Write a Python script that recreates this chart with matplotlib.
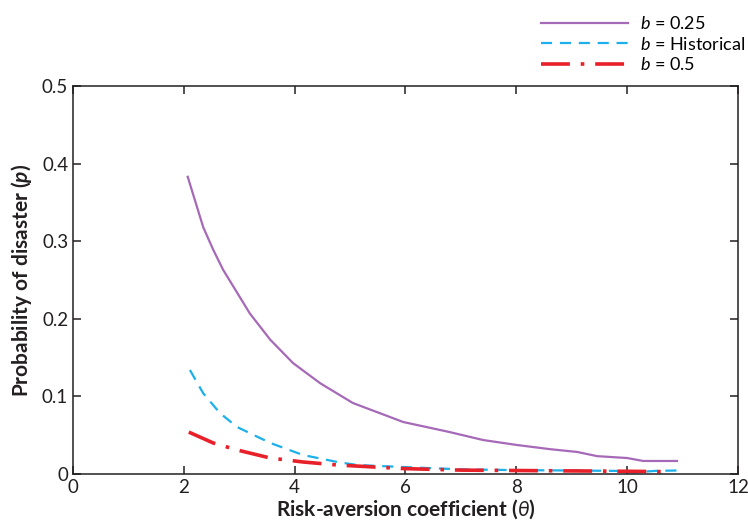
import numpy as np
import matplotlib
matplotlib.use("Agg")
import matplotlib.pyplot as plt

plt.rcParams['font.family'] = ['Lato', 'DejaVu Sans']
plt.rcParams['mathtext.fontset'] = 'custom'
plt.rcParams['mathtext.it'] = 'Lato:italic'
plt.rcParams['mathtext.bf'] = 'Lato:bold:italic'
plt.rcParams['mathtext.rm'] = 'Lato'

# risk-aversion coefficient vs. probability of disaster
theta_025 = [2.07, 2.35, 2.53, 2.71, 3.19, 3.56, 3.97, 4.46, 5.05, 5.96, 6.80, 7.40,
             8.01, 8.61, 9.10, 9.46, 10.0, 10.29, 10.9]
p_025 = [0.383, 0.318, 0.289, 0.263, 0.207, 0.173, 0.143, 0.117, 0.0915, 0.067, 0.054,
         0.0438, 0.0374, 0.032, 0.0284, 0.023, 0.0206, 0.0168, 0.0168]

theta_hist = [2.11, 2.35, 2.65, 2.96, 3.56, 4.15, 4.77, 5.13, 5.96, 7.0, 8.0, 9.0,
              9.8, 10.1, 10.5, 10.9]
p_hist = [0.134, 0.104, 0.0786, 0.0606, 0.040, 0.0245, 0.0155, 0.0116, 0.009, 0.006,
          0.005, 0.0045, 0.004, 0.002, 0.004, 0.0045]

theta_05 = [2.09, 2.53, 2.96, 3.56, 4.15, 4.77, 5.96, 7.0, 8.0, 9.0, 10.0, 10.8]
p_05 = [0.054, 0.040, 0.031, 0.0206, 0.0155, 0.0116, 0.007, 0.005, 0.0045, 0.004,
        0.0035, 0.003]

fig = plt.figure(figsize=(7.48, 5.24), dpi=100)
ax = fig.add_axes([0.0976, 0.0954, 0.889, 0.7405])

ax.plot(theta_025, p_025, color='#a669b8', lw=1.6, label='$b$ = 0.25')
ax.plot(theta_hist, p_hist, color='#1cb0ea', lw=1.6, ls=(0, (5, 3.5)),
        label='$b$ = Historical')
ax.plot(theta_05, p_05, color='#e8202a', lw=2.6, ls=(0, (8, 3, 1, 3)),
        label='$b$ = 0.5')

ax.set_xlim(0, 12)
ax.set_ylim(0, 0.5)
ax.set_xticks([0, 2, 4, 6, 8, 10, 12])
ax.set_xticklabels(['0', '2', '4', '6', '8', '10', '12'])
ax.set_yticks([0, 0.1, 0.2, 0.3, 0.4, 0.5])
ax.set_yticklabels(['0', '0.1', '0.2', '0.3', '0.4', '0.5'])
ax.tick_params(direction='in', length=6, width=1.1, labelsize=13.5,
               top=True, right=True, colors='#231f20')
for s in ax.spines.values():
    s.set_linewidth(1.1)
    s.set_color('#231f20')

ax.set_xlabel(r'Risk-aversion coefficient ($\it{\theta}$)', fontsize=15,
              fontweight='bold', color='#231f20', labelpad=1)
ax.set_ylabel(r'Probability of disaster ($\mathbf{p}$)', fontsize=15,
              fontweight='bold', color='#231f20', labelpad=6)

ax.legend(loc='lower left', bbox_to_anchor=(0.685, 1.0), frameon=False,
          fontsize=13, handlelength=4.8, handletextpad=0.7, labelspacing=0.2,
          borderaxespad=0.3)

fig.savefig('out.png', dpi=100)
